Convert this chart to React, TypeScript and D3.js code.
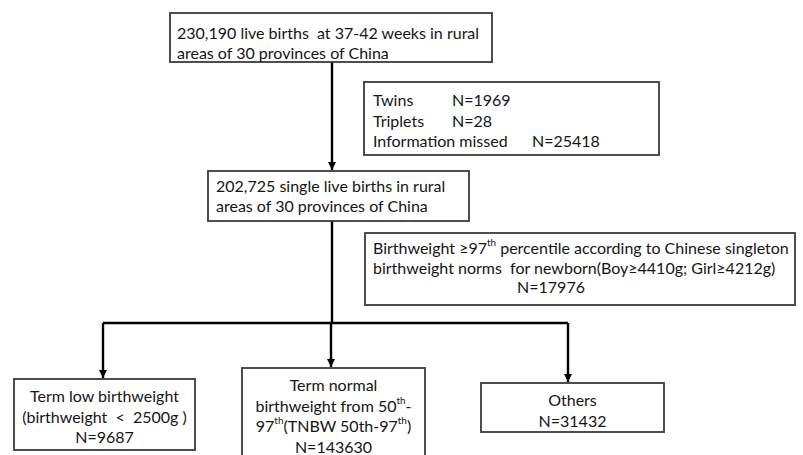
import React, { useEffect, useRef } from 'react'
import * as d3 from 'd3'

// flow counts
const totalBirths = 230190
const singleBirths = 202725
const excludedLabels = ['Twins', 'Triplets', 'Information missed']
const excludedCounts = [1969, 28, 25418]
const macroLines = [
  'Birthweight ≥97^{th} percentile according to Chinese singleton',
  'birthweight norms  for newborn(Boy≥4410g; Girl≥4212g)',
]
const macroCount = 17976
const groupLines = [
  ['Term low birthweight', '(birthweight  <  2500g )'],
  ['Term normal', 'birthweight from 50^{th}-', '97^{th}(TNBW 50th-97^{th})'],
  ['Others'],
]
const groupCounts = [9687, 143630, 31432]

// layout (pixels)
const W = 803
const H = 455
const topBox = { x0: 170, y0: 13, x1: 492, y1: 62 }
const exclBox = { x0: 364, y0: 82, x1: 659, y1: 155 }
const singleBox = { x0: 208, y0: 171, x1: 469, y1: 221 }
const macroBox = { x0: 365, y0: 233, x1: 795, y1: 305 }
const groupBoxes = [
  { x0: 14, y0: 379, x1: 195, y1: 450 },
  { x0: 242, y0: 368, x1: 425, y1: 475 },
  { x0: 481, y0: 383, x1: 664, y1: 432 },
]
const spineX = 332
const branchY = 323
const branchX = [103, 331, 568]

const FONT = 'Lato, "Open Sans", sans-serif'
const FS = 16

const fmt = d3.format(',')

// writes "abc^{th}def" with superscripts
function rich(text: any, str: string) {
  const parts = str.split(/\^\{(.*?)\}/)
  let up = false
  parts.forEach((p, i) => {
    const sup = i % 2 === 1
    if (p === '' && !sup) return
    const t = text.append('tspan').text(p)
    if (sup) {
      t.attr('font-size', FS * 0.62).attr('dy', up ? 0 : -5)
      up = true
    } else if (up) {
      t.attr('dy', 5)
      up = false
    }
  })
}

const App = () => {
  const ref = useRef<SVGSVGElement>(null)

  useEffect(() => {
    const svg = d3.select(ref.current)
    svg.selectAll('*').remove()

    svg.append('defs').append('marker')
      .attr('id', 'arrow')
      .attr('viewBox', '0 0 10 10')
      .attr('refX', 10).attr('refY', 5)
      .attr('markerWidth', 3.4).attr('markerHeight', 3.4)
      .attr('markerUnits', 'strokeWidth')
      .attr('orient', 'auto')
      .append('path')
      .attr('d', 'M0,0L10,5L0,10Z')
      .attr('fill', '#000')

    const g = svg.append('g')
      .attr('font-family', FONT)
      .attr('font-size', FS)
      .attr('fill', '#151515')

    // connectors
    const line = d3.line()
    const conn = g.append('g')
      .attr('fill', 'none')
      .attr('stroke', '#000')
      .attr('stroke-width', 2.4)

    conn.append('path')
      .attr('d', line([[spineX, topBox.y1], [spineX, singleBox.y0 - 1]]))
      .attr('marker-end', 'url(#arrow)')
    conn.append('path')
      .attr('d', line([[spineX, singleBox.y1], [spineX, branchY]]))
    conn.append('path')
      .attr('d', line([[branchX[0], branchY], [branchX[2], branchY]]))
    branchX.forEach((x, i) => {
      conn.append('path')
        .attr('d', line([[x, branchY], [x, groupBoxes[i].y0 - 1]]))
        .attr('marker-end', 'url(#arrow)')
    })

    // boxes
    const allBoxes = [topBox, exclBox, singleBox, macroBox, ...groupBoxes]
    g.append('g')
      .selectAll('rect')
      .data(allBoxes)
      .join('rect')
      .attr('x', d => d.x0)
      .attr('y', d => d.y0)
      .attr('width', d => d.x1 - d.x0)
      .attr('height', d => d.y1 - d.y0)
      .attr('fill', '#fff')
      .attr('stroke', '#3a3a3a')
      .attr('stroke-width', 1.8)

    const txt = (x: number, y: number, s: string, anchor = 'start') => {
      const t = g.append('text')
        .attr('x', x).attr('y', y)
        .attr('dominant-baseline', 'central')
        .attr('text-anchor', anchor)
        .attr('xml:space', 'preserve')
      rich(t, s)
      return t
    }

    // top box
    txt(topBox.x0 + 7, topBox.y0 + 19, `${fmt(totalBirths)} live births  at 37-42 weeks in rural`)
    txt(topBox.x0 + 7, topBox.y0 + 39, 'areas of 30 provinces of China')

    // exclusions
    const countX = [452, 452, 532]
    excludedLabels.forEach((lab, i) => {
      const y = exclBox.y0 + 17 + i * 20.5
      txt(exclBox.x0 + 9, y, lab)
      txt(countX[i], y, `N=${excludedCounts[i]}`)
    })

    // singletons
    txt(singleBox.x0 + 8, singleBox.y0 + 14, `${fmt(singleBirths)} single live births in rural`)
    txt(singleBox.x0 + 8, singleBox.y0 + 34, 'areas of 30 provinces of China')

    // macrosomia
    macroLines.forEach((s, i) => txt(macroBox.x0 + 8, macroBox.y0 + 14 + i * 19.5, s))
    txt(551, macroBox.y0 + 14 + 2 * 19.5, `N=${macroCount}`, 'middle')

    // outcome groups
    groupBoxes.forEach((b, i) => {
      const cx = (b.x0 + b.x1) / 2
      const lines = [...groupLines[i], `N=${groupCounts[i]}`]
      lines.forEach((s, j) => txt(cx, b.y0 + 16 + j * 20.5, s, 'middle'))
    })
  }, [])

  return (
    <svg
      ref={ref}
      width={W}
      height={H}
      style={{ position: 'absolute', left: 0, top: 0, background: '#fff' }}
    />
  )
}

export default App
